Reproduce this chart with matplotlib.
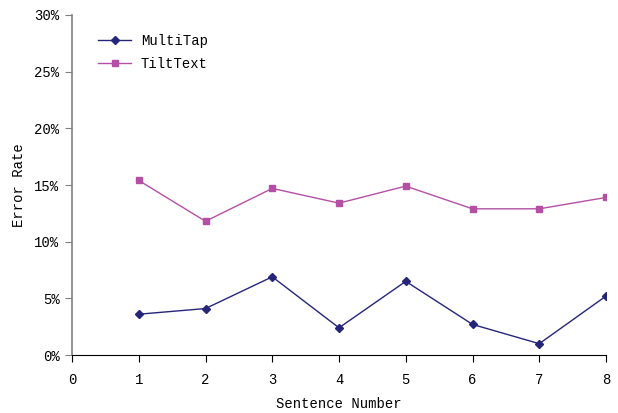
import matplotlib
matplotlib.use('Agg')
import matplotlib.pyplot as plt
from matplotlib.ticker import FuncFormatter

sentences = [1, 2, 3, 4, 5, 6, 7, 8]
multitap = [3.6, 4.1, 6.9, 2.4, 6.5, 2.7, 1.0, 5.2]
tilttext = [15.4, 11.8, 14.7, 13.4, 14.9, 12.9, 12.9, 13.9]

plt.rcParams['font.family'] = ['Liberation Mono', 'DejaVu Sans Mono']
plt.rcParams['font.size'] = 10

fig = plt.figure(figsize=(6.18, 4.13), dpi=100)
ax = fig.add_axes([0.1165, 0.1404, 0.8641, 0.8233])

ax.plot(sentences, multitap, color='#25257A', lw=1, marker='D', ms=4.5, label='MultiTap')
ax.plot(sentences, tilttext, color='#B54FA5', lw=1, marker='s', ms=5, label='TiltText')

ax.set_xlim(0, 8)
ax.set_ylim(0, 30)
ax.set_xticks(range(0, 9))
ax.set_yticks(range(0, 31, 5))
ax.yaxis.set_major_formatter(FuncFormatter(lambda v, p: '%d%%' % v))

for s in ['top', 'right']:
    ax.spines[s].set_visible(False)
ax.spines['left'].set_color('#808080')
ax.spines['left'].set_linewidth(1.2)
ax.spines['bottom'].set_color('black')
ax.tick_params(axis='y', direction='out', length=5, color='#808080', pad=4)
ax.tick_params(axis='x', direction='out', length=5, pad=8)

ax.set_xlabel('Sentence Number', labelpad=7)
ax.set_ylabel('Error Rate', labelpad=6)

ax.legend(loc='upper left', bbox_to_anchor=(0.025, 0.98), frameon=False,
          handlelength=2.4, handletextpad=0.7, labelspacing=0.6)

fig.savefig('out.png', dpi=100)
